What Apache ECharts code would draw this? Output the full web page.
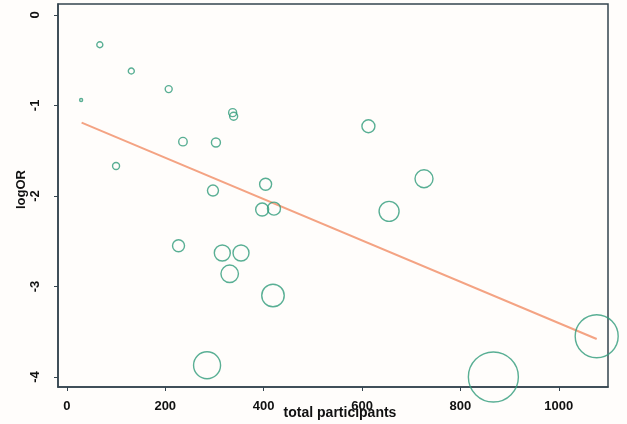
<!DOCTYPE html>
<html>
<head>
<meta charset="utf-8">
<script src="https://cdn.jsdelivr.net/npm/echarts@6/dist/echarts.min.js"></script>
<style>
  html, body { margin: 0; padding: 0; background: #fffdfb; }
  #chart { width: 627px; height: 424px; }
</style>
</head>
<body>
<div id="chart"></div>
<script>
// total participants / logOR per study, bubble size = study weight
const participants = [29, 67, 131, 207, 100, 236, 303, 337, 339, 297, 404, 397, 421, 613, 726, 655, 227, 316, 354, 331, 419, 285, 867, 1077];
const logOR = [-0.94, -0.33, -0.62, -0.82, -1.67, -1.40, -1.41, -1.08, -1.12, -1.94, -1.87, -2.15, -2.14, -1.23, -1.81, -2.17, -2.55, -2.63, -2.63, -2.86, -3.10, -3.87, -4.00, -3.55];
const weights = [3, 6, 6, 7, 7, 8.5, 9, 8, 8, 11, 12, 13, 13, 13, 18, 20, 12, 16, 16, 17.5, 22.5, 27, 50, 43];

// fitted regression line
const fitX = [30, 1077];
const fitY = [-1.19, -3.58];

const xTicks = [0, 200, 400, 600, 800, 1000];
const yTicks = [0, -1, -2, -3, -4];

const chart = echarts.init(document.getElementById('chart'));

const boxColor = '#34444f';
const labelFont = { fontFamily: 'Liberation Sans', fontWeight: 'bold', fontSize: 13, color: '#111' };

chart.setOption({
  backgroundColor: '#fffdfb',
  animation: false,
  grid: {
    left: 58, right: 19, top: 4, bottom: 37,
    outerBoundsMode: 'none',
    containLabel: false,
    show: true,
    borderColor: boxColor,
    borderWidth: 1.5,
    backgroundColor: 'transparent'
  },
  xAxis: {
    type: 'value',
    min: -18,
    max: 1100,
    name: 'total participants',
    nameLocation: 'middle',
    nameGap: 19,
    nameMoveOverlap: false,
    nameTextStyle: { fontFamily: 'Liberation Sans', fontWeight: 'bold', fontSize: 14, color: '#111', padding: [0, 0, 0, 14] },
    splitLine: { show: false },
    axisLine: { show: true, onZero: false, lineStyle: { color: boxColor, width: 1.5 } },
    axisTick: { show: true, length: 4, customValues: xTicks, lineStyle: { color: boxColor } },
    axisLabel: { customValues: xTicks, margin: 13, formatter: v => String(v), ...labelFont }
  },
  yAxis: {
    type: 'value',
    min: -4.11,
    max: 0.12,
    name: 'logOR',
    nameLocation: 'middle',
    nameGap: 30,
    nameMoveOverlap: false,
    nameTextStyle: { fontFamily: 'Liberation Sans', fontWeight: 'bold', fontSize: 13, color: '#111', padding: [0, 0, 0, 12] },
    splitLine: { show: false },
    axisLine: { show: true, onZero: false, lineStyle: { color: boxColor, width: 1.5 } },
    axisTick: { show: true, length: 4, customValues: yTicks, lineStyle: { color: boxColor } },
    axisLabel: { customValues: yTicks, rotate: 90, margin: 16, ...labelFont }
  },
  series: [
    {
      type: 'line',
      data: fitX.map((x, i) => [x, fitY[i]]),
      symbol: 'none',
      lineStyle: { color: '#f4a383', width: 2 },
      z: 2
    },
    {
      type: 'scatter',
      data: participants.map((x, i) => [x, logOR[i], weights[i]]),
      symbol: 'circle',
      symbolSize: d => d[2],
      itemStyle: { color: 'rgba(0,0,0,0)', borderColor: '#2f9b7b', borderWidth: 1.4 },
      z: 3
    }
  ]
});
</script>
</body>
</html>
